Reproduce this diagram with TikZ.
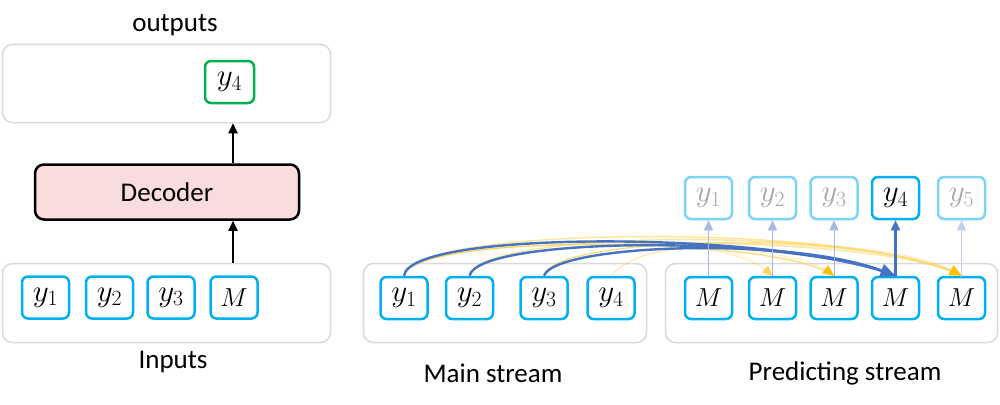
\RequirePackage{fix-cm}
\documentclass[tikz,border=0pt]{standalone}
\usepackage[no-math]{fontspec}
\setmainfont{Carlito}
\usetikzlibrary{arrows.meta}
\definecolor{cyanb}{RGB}{0,176,240}
\definecolor{cyanf}{RGB}{125,212,246}
\definecolor{grayt}{RGB}{166,166,166}
\definecolor{blueA}{RGB}{68,114,196}
\definecolor{blueF}{RGB}{165,185,226}
\definecolor{blueG}{RGB}{195,208,236}
\definecolor{yel}{RGB}{255,192,0}
\definecolor{yelL}{RGB}{255,210,90}
\definecolor{boxgray}{RGB}{217,217,217}
\definecolor{greenb}{RGB}{0,176,80}
\definecolor{pinkf}{RGB}{249,221,221}
\begin{document}
\begin{tikzpicture}[x=1pt,y=-1pt,
  lbl/.style={font=\fontsize{27}{32}\selectfont, inner sep=0pt},
  group/.style={draw=boxgray, line width=1.5pt, rounded corners=10pt, inner sep=0pt},
  tok/.style={draw=cyanb, line width=2.5pt, rounded corners=6pt, minimum width=47pt, minimum height=42pt, inner sep=0pt, font=\fontsize{31}{34}\selectfont},
  mtok/.style={tok, font=\fontsize{26}{30}\selectfont},
  ftok/.style={tok, draw=cyanf, text=grayt},
  blk/.style={line width=2pt, -{Triangle[length=10pt,width=9pt]}},
  bluec/.style={blueA, line width=2.4pt},
  yelc/.style={yelL, line width=1.4pt, opacity=0.6},
  upa/.style={line width=1pt, -{Triangle[length=10pt,width=9pt]}}
]
\useasboundingbox (0,0) rectangle (1000,404);

% ---------- left part ----------
\node[lbl] (outlbl) at (175,25) {outputs};
\node[group, minimum width=328pt, minimum height=78pt] (outbox) at (166.5,83.5) {};
\node[tok, draw=greenb, minimum width=49pt] (oy4) at (229.5,82) {$y_4$};
\node[draw=black, fill=pinkf, line width=2.5pt, rounded corners=9pt, minimum width=264pt, minimum height=55pt, inner sep=0pt, font=\fontsize{27}{32}\selectfont] (dec) at (167,192) {Decoder};
\node[group, minimum width=328pt, minimum height=79pt] (inbox) at (166.5,303) {};
\node[tok] (iy1) at (45.5,297.5) {$y_1$};
\node[tok] (iy2) at (109.5,297.5) {$y_2$};
\node[tok] (iy3) at (171,297.5) {$y_3$};
\node[mtok] (iM) at (234,297.5) {$M$};
\node[lbl] (inlbl) at (173,362) {Inputs};
\coordinate (ax) at (233,0);
\draw[blk] (inbox.north -| ax) -- (dec.south -| ax);
\draw[blk] (dec.north -| ax) -- (outbox.south -| ax);

% ---------- right part ----------
\node[group, minimum width=283pt, minimum height=79pt] (mainbox) at (505,303) {};
\node[group, minimum width=332pt, minimum height=79pt] (predbox) at (831.5,303) {};
\node[lbl] (mainlbl) at (493,373) {Main stream};
\node[lbl] (predlbl) at (845,373) {Predicting stream};

\node[tok] (y1) at (404,298) {$y_1$};
\node[tok] (y2) at (469.5,298) {$y_2$};
\node[tok] (y3) at (544,298) {$y_3$};
\node[tok] (y4) at (611,298) {$y_4$};

\node[mtok] (M1) at (708.5,298) {$M$};
\node[mtok] (M2) at (772.5,298) {$M$};
\node[mtok] (M3) at (834,298) {$M$};
\node[mtok] (M4) at (895.5,298) {$M$};
\node[mtok] (M5) at (961.5,298) {$M$};

\node[ftok] (t1) at (708.5,198) {$y_1$};
\node[ftok] (t2) at (772.5,198) {$y_2$};
\node[ftok] (t3) at (834,198) {$y_3$};
\node[tok] (t4) at (895.5,198) {$y_4$};
\node[ftok] (t5) at (961.5,198) {$y_5$};

% yellow attention curves
\draw[yelc] (y1.north) .. controls (411,223) and (870,224) .. (M5.north);
\draw[yelc] (y2.north) .. controls (478,228) and (872,227) .. (M5.north);
\draw[yelc] (y3.north) .. controls (553,234) and (876,230) .. (M5.north);
\draw[yelc] (y2.north) .. controls (478,232) and (880,233) .. (M5.north);
\draw[yel, line width=0.1pt, -{Triangle[length=12pt,width=11pt]}] (y3.north) .. controls (553,234) and (876,230) .. (M5.north);
\draw[yelc, opacity=0.8] (y1.north) .. controls (414,232) and (780,236) .. (M3.north);
\draw[yel, line width=0.1pt, -{Triangle[length=11pt,width=10pt]}] (y1.north) .. controls (414,232) and (780,236) .. (M3.north);
\draw[yelc, line width=0.8pt, opacity=0.5] (y4.north) .. controls (640,242) and (730,238) .. (M2.north);
\draw[yelL, line width=0.1pt, -{Triangle[length=10pt,width=9pt]}] (y4.north) .. controls (640,242) and (730,238) .. (M2.north);

% blue attention curves
\draw[bluec] (y1.north) .. controls (410,228) and (790,232) .. (M4.north);
\draw[bluec] (y2.north) .. controls (478,236) and (790,234) .. (M4.north);
\draw[bluec, -{Triangle[length=15pt,width=13pt]}] (y3.north) .. controls (555,244) and (790,236) .. (M4.north);

% upward arrows
\draw[upa, blueF] (M1.north) -- (t1.south);
\draw[upa, blueF] (M2.north) -- (t2.south);
\draw[upa, blueF] (M3.north) -- (t3.south);
\draw[upa, blueA, line width=2.2pt] (M4.north) -- (t4.south);
\draw[upa, blueG] (M5.north) -- (t5.south);
\end{tikzpicture}
\end{document}
